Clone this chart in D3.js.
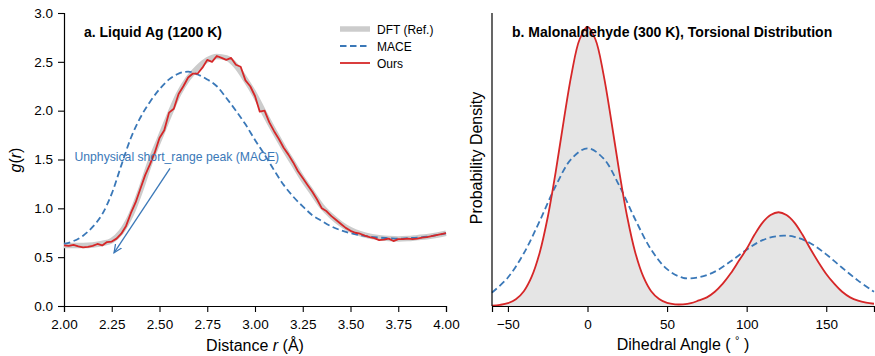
<!DOCTYPE html>
<html>
<head>
<meta charset="utf-8">
<script src="https://cdn.jsdelivr.net/npm/d3@7"></script>
<style>
  body { margin: 0; background: #fff; }
  svg { font-family: "Liberation Sans", Arial, sans-serif; }
</style>
</head>
<body>
<svg id="chart" width="875" height="356"></svg>
<script>
// panel a: radial distribution g(r)
const rDft = [2.00, 2.05, 2.10, 2.15, 2.20, 2.25, 2.30, 2.35, 2.40, 2.45, 2.50, 2.55, 2.60, 2.65, 2.70, 2.75, 2.80, 2.85, 2.90, 2.95,
  3.00, 3.05, 3.10, 3.15, 3.20, 3.25, 3.30, 3.35, 3.40, 3.45, 3.50, 3.55, 3.60, 3.65, 3.70, 3.75, 3.80, 3.85, 3.90, 3.95, 4.00];
const gDft = [0.62, 0.62, 0.62, 0.625, 0.64, 0.67, 0.76, 0.93, 1.18, 1.47, 1.71, 1.95, 2.17, 2.33, 2.44, 2.52, 2.555, 2.54, 2.46, 2.32,
  2.16, 1.97, 1.79, 1.62, 1.46, 1.30, 1.16, 1.02, 0.92, 0.84, 0.78, 0.74, 0.715, 0.70, 0.69, 0.685, 0.69, 0.70, 0.71, 0.725, 0.745];
const gMace = [0.635, 0.665, 0.72, 0.81, 0.94, 1.15, 1.44, 1.72, 1.93, 2.09, 2.22, 2.32, 2.38, 2.40, 2.37, 2.32, 2.25, 2.13, 2.00, 1.86,
  1.70, 1.55, 1.39, 1.24, 1.12, 1.02, 0.93, 0.87, 0.815, 0.775, 0.745, 0.725, 0.71, 0.70, 0.695, 0.69, 0.695, 0.70, 0.71, 0.725, 0.745];

const rOurs = [2.000, 2.025, 2.050, 2.075, 2.100, 2.125, 2.150, 2.175, 2.200, 2.225, 2.250, 2.275, 2.300, 2.325, 2.350, 2.375,
  2.400, 2.425, 2.450, 2.475, 2.500, 2.525, 2.550, 2.575, 2.600, 2.625, 2.650, 2.675, 2.700, 2.725, 2.750, 2.775,
  2.800, 2.825, 2.850, 2.875, 2.900, 2.925, 2.950, 2.975, 3.000, 3.025, 3.050, 3.075, 3.100, 3.125, 3.150, 3.175,
  3.200, 3.225, 3.250, 3.275, 3.300, 3.325, 3.350, 3.375, 3.400, 3.425, 3.450, 3.475, 3.500, 3.525, 3.550, 3.575,
  3.600, 3.625, 3.650, 3.675, 3.700, 3.725, 3.750, 3.775, 3.800, 3.825, 3.850, 3.875, 3.900, 3.925, 3.950, 3.975, 4.000];
const gOurs = [0.62, 0.615, 0.625, 0.61, 0.60, 0.605, 0.615, 0.635, 0.62, 0.655, 0.66, 0.69, 0.74, 0.82, 0.95, 1.06,
  1.20, 1.34, 1.45, 1.57, 1.72, 1.80, 1.98, 2.02, 2.17, 2.25, 2.34, 2.38, 2.38, 2.44, 2.52, 2.50,
  2.56, 2.54, 2.52, 2.54, 2.47, 2.45, 2.31, 2.25, 2.15, 1.99, 2.00, 1.88, 1.79, 1.71, 1.62, 1.55,
  1.47, 1.38, 1.31, 1.24, 1.17, 1.09, 1.00, 0.97, 0.92, 0.88, 0.84, 0.80, 0.77, 0.75, 0.74, 0.72,
  0.705, 0.695, 0.675, 0.68, 0.69, 0.665, 0.685, 0.685, 0.69, 0.685, 0.69, 0.70, 0.705, 0.715, 0.725, 0.735, 0.745];

const gTicks = [0.0, 0.5, 1.0, 1.5, 2.0, 2.5, 3.0];
const rTicks = [2.00, 2.25, 2.50, 2.75, 3.00, 3.25, 3.50, 3.75, 4.00];

// panel b: torsional distribution
const angOurs = [-60, -55, -50, -45, -40, -35, -30, -25, -20, -15, -10, -5, 0, 5, 10, 15, 20, 25, 30, 35, 40, 45, 50, 55,
  60, 65, 70, 75, 80, 85, 90, 95, 100, 105, 110, 115, 120, 125, 130, 135, 140, 145, 150, 155, 160, 165, 170, 175, 180];
const pDft = [0.001, 0.004, 0.010, 0.024, 0.053, 0.106, 0.192, 0.318, 0.480, 0.662, 0.832, 0.955, 1.0, 0.955, 0.832, 0.662, 0.480, 0.318, 0.192, 0.106, 0.053, 0.025, 0.011, 0.006,
  0.006, 0.010, 0.020, 0.031, 0.051, 0.080, 0.117, 0.161, 0.205, 0.256, 0.299, 0.326, 0.336, 0.326, 0.299, 0.256, 0.205, 0.158, 0.115, 0.080, 0.051, 0.031, 0.019, 0.012, 0.008];
const pOurs = pDft.slice();

const angMace = [-60, -50, -40, -30, -20, -10, 0, 10, 20, 30, 40, 50, 60, 70, 80, 90, 100, 110, 120, 130, 140, 150, 160, 170, 180];
const pMace = [0.048, 0.102, 0.189, 0.305, 0.430, 0.528, 0.565, 0.529, 0.431, 0.310, 0.202, 0.132, 0.101, 0.103, 0.123, 0.160, 0.202, 0.236, 0.251, 0.248, 0.225, 0.185, 0.137, 0.091, 0.051];
const angTicks = [-50, 0, 50, 100, 150];

const colRed = "#d62728";
const colBlue = "#3a78b8";
const colGray = "#cccccc";

const svg = d3.select("#chart");

// ---------- panel a ----------
const xa = d3.scaleLinear().domain([2, 4]).range([64, 446]);
const ya = d3.scaleLinear().domain([0, 3]).range([306, 13]);

const gA = svg.append("g");

gA.append("g")
  .attr("transform", "translate(0,306)")
  .call(d3.axisBottom(xa).tickValues(rTicks).tickFormat(d3.format(".2f")).tickSizeOuter(0).tickSize(6).tickPadding(7));
gA.append("g")
  .attr("transform", "translate(64,0)")
  .call(d3.axisLeft(ya).tickValues(gTicks).tickFormat(d3.format(".1f")).tickSizeOuter(0).tickSize(6).tickPadding(5));

gA.append("path")
  .attr("d", d3.line().x((d, i) => xa(rDft[i])).y(d => ya(d)).curve(d3.curveMonotoneX)(gDft))
  .attr("fill", "none").attr("stroke", colGray).attr("stroke-width", 5.5).attr("stroke-linejoin", "round");
gA.append("path")
  .attr("d", d3.line().x((d, i) => xa(rDft[i])).y(d => ya(d)).curve(d3.curveMonotoneX)(gMace))
  .attr("fill", "none").attr("stroke", colBlue).attr("stroke-width", 1.8).attr("stroke-dasharray", "6.5,3.5");
gA.append("path")
  .attr("d", d3.line().x((d, i) => xa(rOurs[i])).y(d => ya(d))(gOurs))
  .attr("fill", "none").attr("stroke", colRed).attr("stroke-width", 1.8).attr("stroke-linejoin", "round");

// annotation
svg.append("defs").append("marker")
  .attr("id", "arrow")
  .attr("viewBox", "0 0 10 10")
  .attr("refX", 9).attr("refY", 5)
  .attr("markerWidth", 7).attr("markerHeight", 7)
  .attr("orient", "auto-start-reverse")
  .append("path")
  .attr("d", "M0,1 L9,5 L0,9")
  .attr("fill", "none").attr("stroke", colBlue).attr("stroke-width", 1.4);

gA.append("line")
  .attr("x1", xa(2.555)).attr("y1", ya(1.41))
  .attr("x2", xa(2.262)).attr("y2", ya(0.545))
  .attr("stroke", colBlue).attr("stroke-width", 1.3)
  .attr("marker-end", "url(#arrow)");
gA.append("text")
  .attr("x", xa(2.055)).attr("y", ya(1.48))
  .attr("fill", colBlue).attr("font-size", 12.2)
  .text("Unphysical short_range peak (MACE)");

gA.append("text")
  .attr("x", 84).attr("y", 37)
  .attr("font-size", 14).attr("font-weight", "bold")
  .text("a. Liquid Ag (1200 K)");

// legend
const legend = [
  { name: "DFT (Ref.)", color: colGray, width: 5.5, dash: null },
  { name: "MACE", color: colBlue, width: 1.8, dash: "6.5,3.5" },
  { name: "Ours", color: colRed, width: 1.8, dash: null }
];
const lg = gA.append("g").attr("transform", "translate(340,29)");
legend.forEach((d, i) => {
  lg.append("line")
    .attr("x1", 0).attr("x2", 30)
    .attr("y1", i * 17).attr("y2", i * 17)
    .attr("stroke", d.color).attr("stroke-width", d.width)
    .attr("stroke-dasharray", d.dash);
  lg.append("text")
    .attr("x", 37).attr("y", i * 17 + 4.5)
    .attr("font-size", 12)
    .text(d.name);
});

// axis labels
const xLabA = gA.append("text")
  .attr("x", 255).attr("y", 351)
  .attr("text-anchor", "middle").attr("font-size", 16);
xLabA.append("tspan").text("Distance ");
xLabA.append("tspan").attr("font-style", "italic").text("r");
xLabA.append("tspan").text(" (Å)");

const yLabA = gA.append("text")
  .attr("transform", "translate(21,160) rotate(-90)")
  .attr("text-anchor", "middle").attr("font-size", 16);
yLabA.append("tspan").attr("font-style", "italic").text("g");
yLabA.append("tspan").text("(");
yLabA.append("tspan").attr("font-style", "italic").text("r");
yLabA.append("tspan").text(")");

// ---------- panel b ----------
const xb = d3.scaleLinear().domain([-60, 180]).range([492, 874]);
const yb = d3.scaleLinear().domain([0, 1.05]).range([306, 13]);

const gB = svg.append("g");

gB.append("path")
  .attr("d", d3.area().x((d, i) => xb(angOurs[i])).y0(yb(0)).y1(d => yb(d)).curve(d3.curveCatmullRom)(pDft))
  .attr("fill", "#e5e5e5");
gB.append("path")
  .attr("d", d3.line().x((d, i) => xb(angMace[i])).y(d => yb(d)).curve(d3.curveCatmullRom)(pMace))
  .attr("fill", "none").attr("stroke", colBlue).attr("stroke-width", 1.8).attr("stroke-dasharray", "6.5,3.5");
gB.append("path")
  .attr("d", d3.line().x((d, i) => xb(angOurs[i])).y(d => yb(d)).curve(d3.curveCatmullRom)(pOurs))
  .attr("fill", "none").attr("stroke", colRed).attr("stroke-width", 1.8);

gB.append("g")
  .attr("transform", "translate(0,306)")
  .call(d3.axisBottom(xb).tickValues(angTicks).tickFormat(d => d < 0 ? "\u2212" + Math.abs(d) : d).tickSizeOuter(0).tickSize(6).tickPadding(7));
gB.append("line")
  .attr("x1", 492).attr("x2", 492)
  .attr("y1", yb(1.05)).attr("y2", 306)
  .attr("stroke", "#000").attr("stroke-width", 1.2);

gB.append("text")
  .attr("x", 512).attr("y", 37)
  .attr("font-size", 14).attr("font-weight", "bold")
  .text("b. Malonaldehyde (300 K), Torsional Distribution");

const xLabB = gB.append("text")
  .attr("x", 683).attr("y", 350)
  .attr("text-anchor", "middle").attr("font-size", 16);
xLabB.append("tspan").text("Dihedral Angle ( ");
xLabB.append("tspan").attr("font-size", 11).attr("dy", -6).text("\u00b0");
xLabB.append("tspan").attr("dy", 6).text(" )");

gB.append("text")
  .attr("transform", "translate(482,158) rotate(-90)")
  .attr("text-anchor", "middle").attr("font-size", 16)
  .text("Probability Density");

// axis styling
svg.selectAll(".tick text").attr("font-size", 13.5).attr("fill", "#000")
  .attr("font-family", "'Liberation Sans', Arial, sans-serif");
svg.selectAll(".domain").attr("stroke", "#000").attr("stroke-width", 1.2);
svg.selectAll(".tick line").attr("stroke", "#000").attr("stroke-width", 1.1);
</script>
</body>
</html>
